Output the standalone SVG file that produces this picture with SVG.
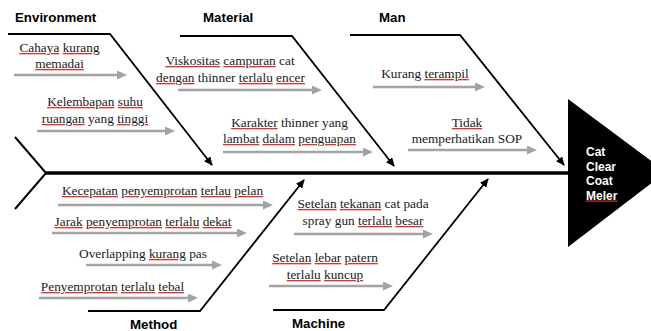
<svg xmlns="http://www.w3.org/2000/svg" width="651" height="331" viewBox="0 0 651 331">
  <style>
    .cat { font-family: "Liberation Sans", Arial, sans-serif; font-weight: bold; font-size: 13.3px; fill: #000; }
    .cause { font-family: "Liberation Serif", "Times New Roman", serif; font-size: 13.3px; fill: #1a1a1a; text-anchor: middle; }
    .head { font-family: "Liberation Sans", Arial, sans-serif; font-weight: bold; font-size: 12px; fill: #fff; }
    /* spelling marks: the decoration takes the fill of the tspan that declares it */
    .sp { text-decoration: underline; fill: #e03030; }
    .sp > tspan { fill: #1a1a1a; }
    .head .sp > tspan { fill: #fff; }
    .bone { fill: none; stroke: #000; stroke-width: 1.8; marker-end: url(#blackHead); }
    .sub { fill: none; stroke: #a3a3a3; stroke-width: 2.6; marker-end: url(#grayHead); }
    .spine { stroke: #000; stroke-width: 3.6; fill: none; }
    .tail { stroke: #000; stroke-width: 2; fill: none; }
  </style>
  <defs>
    <marker id="blackHead" markerUnits="userSpaceOnUse" viewBox="0 0 9 8" markerWidth="9" markerHeight="8" refX="8" refY="4" orient="auto">
      <path d="M0,0 L9,4 L0,8 z" fill="#000"/>
    </marker>
    <marker id="grayHead" markerUnits="userSpaceOnUse" viewBox="0 0 10 9" markerWidth="10" markerHeight="9" refX="3" refY="4.5" orient="auto">
      <path d="M0,0 L10,4.5 L0,9 z" fill="#a3a3a3"/>
    </marker>
  </defs>
  <rect width="651" height="331" fill="#fff"/>

  <!-- backbone, tail and head -->
  <g id="spine">
    <line class="spine" x1="46" y1="173" x2="570" y2="173"/>
    <polyline class="tail" points="15,137 46,173 15,209"/>
  </g>
  <g id="problem">
    <polygon points="568,99 666,172 568,247" fill="#000"/>
    <text class="head" x="586" y="156">Cat</text>
    <text class="head" x="586" y="170.5">Clear</text>
    <text class="head" x="586" y="185">Coat</text>
    <text class="head" x="586" y="199.5"><tspan class="sp"><tspan>Meler</tspan></tspan></text>
  </g>

  <!-- category bones -->
  <g id="connectors">
    <polyline class="bone" points="8,34 110,34 212,165"/>
    <polyline class="bone" points="180,36 292,36 394,166"/>
    <polyline class="bone" points="350,35 460,35 564,165"/>
    <polyline class="bone" points="88,311 200,311 304,180"/>
    <polyline class="bone" points="273,310 384,310 488,179"/>
    <!-- cause arrows -->
    <line class="sub" x1="14" y1="75" x2="120" y2="75"/>
    <line class="sub" x1="37" y1="131" x2="168" y2="131"/>
    <line class="sub" x1="178" y1="90" x2="315" y2="90"/>
    <line class="sub" x1="223" y1="152" x2="366" y2="152"/>
    <line class="sub" x1="373" y1="87" x2="478" y2="87"/>
    <line class="sub" x1="408" y1="150" x2="530" y2="150"/>
    <line class="sub" x1="58" y1="205" x2="266" y2="205"/>
    <line class="sub" x1="52" y1="233" x2="240" y2="233"/>
    <line class="sub" x1="86" y1="265" x2="215" y2="265"/>
    <line class="sub" x1="39" y1="298" x2="191" y2="298"/>
    <line class="sub" x1="294" y1="234" x2="426" y2="234"/>
    <line class="sub" x1="269" y1="286" x2="386" y2="286"/>
  </g>

  <g id="environment">
    <text class="cat" x="15" y="22">Environment</text>
    <text class="cause" x="59.5" y="52"><tspan class="sp"><tspan>Cahaya</tspan></tspan> <tspan class="sp"><tspan>kurang</tspan></tspan></text>
    <text class="cause" x="59.5" y="68"><tspan class="sp"><tspan>memadai</tspan></tspan></text>
    <text class="cause" x="95" y="106"><tspan class="sp"><tspan>Kelembapan</tspan></tspan> <tspan class="sp"><tspan>suhu</tspan></tspan></text>
    <text class="cause" x="95" y="123"><tspan class="sp"><tspan>ruangan</tspan></tspan> yang <tspan class="sp"><tspan>tinggi</tspan></tspan></text>
  </g>

  <g id="material">
    <text class="cat" x="203" y="22">Material</text>
    <text class="cause" x="230" y="65"><tspan class="sp"><tspan>Viskositas</tspan></tspan> <tspan class="sp"><tspan>campuran</tspan></tspan> cat</text>
    <text class="cause" x="230.5" y="82"><tspan class="sp"><tspan>dengan</tspan></tspan> thinner <tspan class="sp"><tspan>terlalu</tspan></tspan> <tspan class="sp"><tspan>encer</tspan></tspan></text>
    <text class="cause" x="289.5" y="127"><tspan class="sp"><tspan>Karakter</tspan></tspan> thinner yang</text>
    <text class="cause" x="289.5" y="143"><tspan class="sp"><tspan>lambat</tspan></tspan> <tspan class="sp"><tspan>dalam</tspan></tspan> <tspan class="sp"><tspan>penguapan</tspan></tspan></text>
  </g>

  <g id="man">
    <text class="cat" x="379" y="22">Man</text>
    <text class="cause" x="425" y="78">Kurang <tspan class="sp"><tspan>terampil</tspan></tspan></text>
    <text class="cause" x="467" y="127"><tspan class="sp"><tspan>Tidak</tspan></tspan></text>
    <text class="cause" x="467" y="143">memperhatikan SOP</text>
  </g>

  <g id="method">
    <text class="cat" x="130" y="329">Method</text>
    <text class="cause" x="162.5" y="195"><tspan class="sp"><tspan>Kecepatan</tspan></tspan> <tspan class="sp"><tspan>penyemprotan</tspan></tspan> <tspan class="sp"><tspan>terlau</tspan></tspan> <tspan class="sp"><tspan>pelan</tspan></tspan></text>
    <text class="cause" x="143" y="226"><tspan class="sp"><tspan>Jarak</tspan></tspan> <tspan class="sp"><tspan>penyemprotan</tspan></tspan> <tspan class="sp"><tspan>terlalu</tspan></tspan> <tspan class="sp"><tspan>dekat</tspan></tspan></text>
    <text class="cause" x="143" y="258">Overlapping <tspan class="sp"><tspan>kurang</tspan></tspan> pas</text>
    <text class="cause" x="112.5" y="291"><tspan class="sp"><tspan>Penyemprotan</tspan></tspan> <tspan class="sp"><tspan>terlalu</tspan></tspan> <tspan class="sp"><tspan>tebal</tspan></tspan></text>
  </g>

  <g id="machine">
    <text class="cat" x="292" y="328">Machine</text>
    <text class="cause" x="363" y="208"><tspan class="sp"><tspan>Setelan</tspan></tspan> <tspan class="sp"><tspan>tekanan</tspan></tspan> cat pada</text>
    <text class="cause" x="363" y="225">spray gun <tspan class="sp"><tspan>terlalu</tspan></tspan> <tspan class="sp"><tspan>besar</tspan></tspan></text>
    <text class="cause" x="325" y="262"><tspan class="sp"><tspan>Setelan</tspan></tspan> <tspan class="sp"><tspan>lebar</tspan></tspan> <tspan class="sp"><tspan>patern</tspan></tspan></text>
    <text class="cause" x="325" y="279"><tspan class="sp"><tspan>terlalu</tspan></tspan> <tspan class="sp"><tspan>kuncup</tspan></tspan></text>
  </g>
</svg>
